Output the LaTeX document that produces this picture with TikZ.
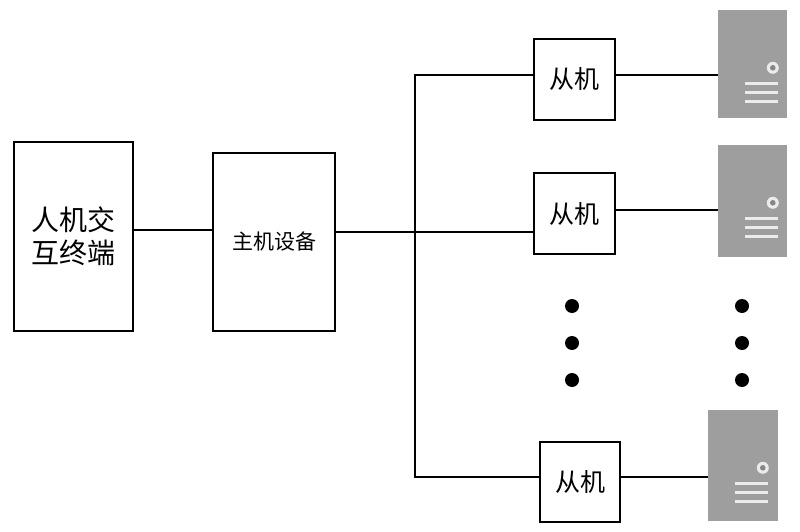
\documentclass[tikz,border=0pt]{standalone}
\usepackage{fontspec}
\newfontfamily\cjk{Noto Sans CJK SC}
\usetikzlibrary{calc}
\definecolor{srvgray}{RGB}{158,158,158}
\definecolor{srvlight}{RGB}{235,235,235}
\tikzset{
  blk/.style={draw=black, line width=1.8pt, fill=white, inner sep=0pt, align=center},
  wire/.style={draw=black, line width=1.8pt},
  srv/.style={fill=srvgray, draw=none, inner sep=0pt, rectangle},
  stripe/.style={draw=srvlight, line width=3.2pt},
  bigdot/.style={circle, fill=black, inner sep=0pt, minimum size=14pt},
}
\newcommand\srvdetail[1]{%
  \draw[stripe] ($(#1.north west)+(27,74)$) -- ($(#1.north west)+(60,74)$);
  \draw[stripe] ($(#1.north west)+(27,83)$) -- ($(#1.north west)+(60,83)$);
  \draw[stripe] ($(#1.north west)+(27,92)$) -- ($(#1.north west)+(60,92)$);
  \fill[srvlight] ($(#1.north west)+(55,58)$) circle (6pt);
  \fill[srvgray!85!black] ($(#1.north west)+(55,58)$) circle (2.8pt);
}
\begin{document}
\begin{tikzpicture}[x=1pt,y=-1pt]
\useasboundingbox (0,0) rectangle (800,532);
\fill[white] (0,0) rectangle (800,532);

% main boxes
\node[blk, minimum width=119pt, minimum height=189pt, font=\cjk\fontsize{28}{35}\selectfont] (term) at (73.5,236.5) {人机交\\[-2pt]互终端};
\node[blk, minimum width=122pt, minimum height=178pt, font=\cjk\fontsize{21}{25}\selectfont] (host) at (274,242) {主机设备};

% slaves
\node[blk, minimum width=81pt, minimum height=81pt, font=\cjk\fontsize{25}{30}\selectfont] (s1) at (574.5,79.5) {从机};
\node[blk, minimum width=81pt, minimum height=81pt, font=\cjk\fontsize{25}{30}\selectfont] (s2) at (574.5,213.5) {从机};
\node[blk, minimum width=80pt, minimum height=80pt, font=\cjk\fontsize{25}{30}\selectfont] (s3) at (580,482) {从机};

% servers
\node[srv, minimum width=69pt, minimum height=108pt] (sv1) at (752.5,64) {};
\node[srv, minimum width=69pt, minimum height=112pt] (sv2) at (752.5,201) {};
\node[srv, minimum width=70pt, minimum height=111pt] (sv3) at (743,465.5) {};
\srvdetail{sv1}
\srvdetail{sv2}
\srvdetail{sv3}

% coordinates
\coordinate (y1) at (0,230);
\coordinate (bus) at (415,232);
\coordinate (bt) at (415,75);
\coordinate (bb) at (415,477);
\coordinate (r2) at (0,210);

% connectors
\draw[wire] (term.east |- y1) -- (host.west |- y1);
\draw[wire] (host.east |- bus) -- (s2.west |- bus);
\draw[wire] (s1.west |- bt) -- (bt) -- (bb) -- (s3.west |- bb);
\draw[wire] (s1.east |- bt) -- (sv1.west |- bt);
\draw[wire] (s2.east |- r2) -- (sv2.west |- r2);
\draw[wire] (s3.east |- bb) -- (sv3.west |- bb);

% ellipsis dots
\node[bigdot] (d1) at (572,306) {};
\node[bigdot] (d2) at (572,343) {};
\node[bigdot] (d3) at (572,380) {};
\node[bigdot] (d4) at (742,306) {};
\node[bigdot] (d5) at (742,343) {};
\node[bigdot] (d6) at (742,380) {};
\end{tikzpicture}
\end{document}
